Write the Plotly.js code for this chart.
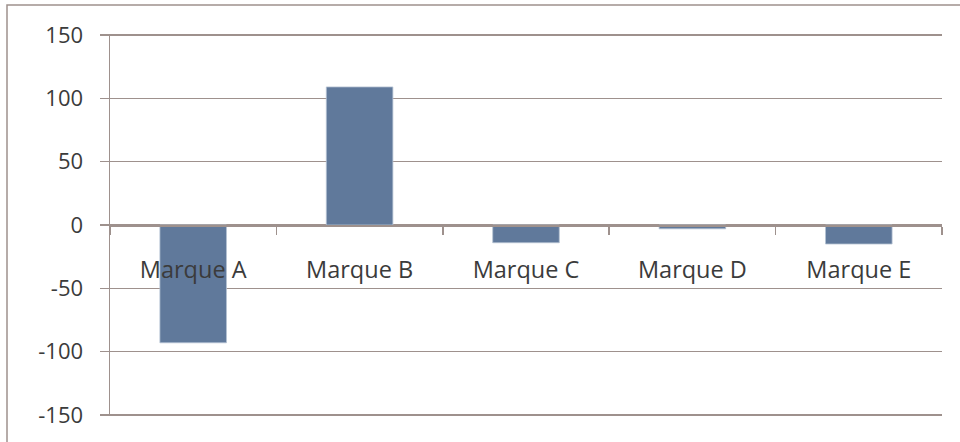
<!DOCTYPE html>
<html>
<head>
<meta charset="utf-8">
<script src="https://cdn.plot.ly/plotly-3.0.1.min.js"></script>
<style>
html, body { margin: 0; padding: 0; background: #ffffff; }
#chart { width: 960px; height: 442px; }
</style>
</head>
<body>
<div id="chart"></div>
<script>
const categories = ["Marque A", "Marque B", "Marque C", "Marque D", "Marque E"];
const values = [-93, 109, -14, -3, -15];
const yTickValues = [-150, -100, -50, 0, 50, 100, 150];

const lineColor = "#9e918d";
const textColor = "#3b3b3b";

const trace = {
  type: "bar",
  x: categories,
  y: values,
  marker: { color: "#60799b", line: { color: "#b4c1d2", width: 0.8 } },
  hoverinfo: "x+y"
};

const layout = {
  width: 960,
  height: 442,
  margin: { l: 110, r: 18, t: 34, b: 26 },
  paper_bgcolor: "#ffffff",
  plot_bgcolor: "#ffffff",
  font: { family: "Open Sans, sans-serif", size: 22, color: textColor },
  showlegend: false,
  bargap: 0.6,
  xaxis: {
    type: "category",
    anchor: "free",
    position: 0.5,
    showline: true,
    linecolor: lineColor,
    linewidth: 1.5,
    ticks: "outside",
    tickson: "boundaries",
    ticklen: 8,
    tickwidth: 1.5,
    tickcolor: lineColor,
    showgrid: false,
    zeroline: false,
    ticklabelstandoff: 23,
    tickfont: { size: 23.5, color: textColor }
  },
  yaxis: {
    range: [-150.8, 150.8],
    tickvals: yTickValues,
    ticktext: yTickValues.map(String),
    showline: true,
    linecolor: lineColor,
    linewidth: 1.5,
    ticks: "outside",
    ticklen: 9,
    tickwidth: 1.5,
    tickcolor: lineColor,
    showgrid: true,
    gridcolor: lineColor,
    gridwidth: 1.3,
    zeroline: false,
    ticklabelstandoff: 12,
    tickfont: { size: 22, color: textColor }
  },
  shapes: [
    {
      type: "rect", xref: "paper", yref: "paper",
      x0: (7 - 110) / 832, x1: (966 - 110) / 832,
      y0: -(450 - 416) / 382, y1: 1 + (34 - 5) / 382,
      line: { color: lineColor, width: 1.5 },
      fillcolor: "rgba(0,0,0,0)",
      layer: "below"
    }
  ]
};

Plotly.newPlot("chart", [trace], layout, { displayModeBar: false, staticPlot: true });
</script>
</body>
</html>
